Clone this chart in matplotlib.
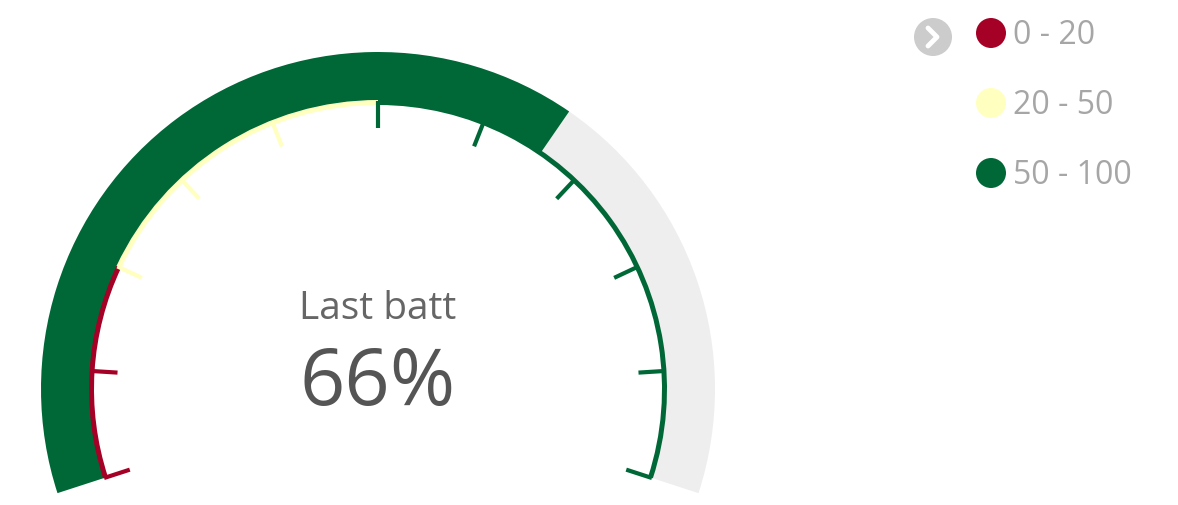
import matplotlib
matplotlib.use("Agg")
import matplotlib.pyplot as plt
from matplotlib.patches import Wedge, Circle
import numpy as np

# gauge data
value = 66
title = "Last batt"
range_bounds = [(0, 20), (20, 50), (50, 100)]
range_labels = ["0 - 20", "20 - 50", "50 - 100"]
range_colors = ["#a50026", "#ffffbf", "#006837"]
tick_values = [0, 10, 20, 30, 40, 50, 60, 70, 80, 90, 100]

W, H = 1178, 506
fig = plt.figure(figsize=(W / 100, H / 100), dpi=100)
ax = fig.add_axes([0, 0, 1, 1])
ax.set_xlim(0, W)
ax.set_ylim(0, H)
ax.axis("off")

# geometry (pixel coords, y up)
cx, cy = 378, H - 390
r_out, r_in = 337, 287
half_span = 108.0


def ang(v):
    # value -> math angle in degrees
    return 90 + half_span - v * 2 * half_span / 100.0


def color_for(v):
    for (lo, hi), c in zip(range_bounds, range_colors):
        if lo <= v < hi:
            return c
    return range_colors[-1]


# background + value band
ax.add_patch(Wedge((cx, cy), r_out, ang(100), ang(value), width=r_out - r_in,
                   facecolor="#eeeeee", edgecolor="none"))
ax.add_patch(Wedge((cx, cy), r_out, ang(value), ang(0), width=r_out - r_in,
                   facecolor=range_colors[2], edgecolor="none"))

# thin range arcs
for (lo, hi), c in zip(range_bounds, range_colors):
    ax.add_patch(Wedge((cx, cy), r_in + 2, ang(hi), ang(lo), width=5,
                       facecolor=c, edgecolor="none"))

# ticks
for v in tick_values:
    a = np.radians(ang(v))
    xs = [cx + (r_in + 1) * np.cos(a), cx + (r_in - 26) * np.cos(a)]
    ys = [cy + (r_in + 1) * np.sin(a), cy + (r_in - 26) * np.sin(a)]
    ax.plot(xs, ys, color=color_for(v), lw=3.0, solid_capstyle="butt")

# center texts
ax.text(cx, H - 309, title, ha="center", va="center", fontsize=28,
        color="#666666", family="Open Sans")
ax.text(cx, H - 384, "%d%%" % value, ha="center", va="center", fontsize=57,
        color="#555555", family="Open Sans")

# legend
ax.add_patch(Circle((933, H - 38), 19, facecolor="#cccccc", edgecolor="none"))
ax.plot([928, 937, 928], [H - 29, H - 38, H - 47], color="white", lw=3.5,
        solid_capstyle="round", solid_joinstyle="round")
for i, (lab, c) in enumerate(zip(range_labels, range_colors)):
    y = H - (34 + 70 * i)
    ax.add_patch(Circle((991, y), 15, facecolor=c, edgecolor="none"))
    ax.text(1013, y - 1, lab, ha="left", va="center", fontsize=23,
            color="#a6a6a6", family="Open Sans")

fig.savefig("out.png", dpi=100)
